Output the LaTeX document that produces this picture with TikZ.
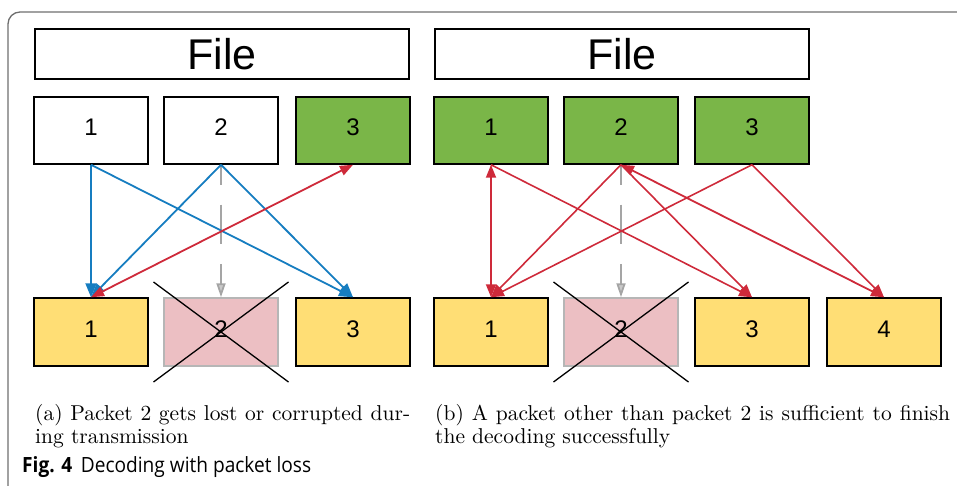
\documentclass[tikz,border=0pt]{standalone}
\usepackage{fontspec}
\usepackage{graphicx}
\usetikzlibrary{arrows.meta}
\newfontfamily\boxfont{Liberation Sans}
\newfontfamily\capsans{Open Sans}

\definecolor{pktgreen}{RGB}{122,182,72}
\definecolor{pktyellow}{RGB}{255,222,117}
\definecolor{pktpink}{RGB}{236,191,195}
\definecolor{pktpinkline}{RGB}{182,182,182}
\definecolor{arrblue}{RGB}{22,125,192}
\definecolor{arrred}{RGB}{206,42,58}
\definecolor{arrgray}{RGB}{165,165,165}
\definecolor{framegray}{RGB}{110,110,110}

\begin{document}
\begin{tikzpicture}[x=1pt,y=-1pt,
  pkt/.style={draw=black, line width=1.5pt, minimum width=114pt, minimum height=67pt,
    inner sep=0pt, text depth=6pt, font=\boxfont\fontsize{24}{24}\selectfont},
  filebox/.style={draw=black, line width=1.5pt, minimum width=374pt, minimum height=50pt,
    inner sep=0pt, font=\boxfont\fontsize{43}{43}\selectfont},
  srcpkt/.style={pkt},
  donepkt/.style={pkt, fill=pktgreen},
  rxpkt/.style={pkt, fill=pktyellow, minimum height=68pt},
  lostpkt/.style={pkt, fill=pktpink, draw=pktpinkline, minimum height=68pt},
  bluearr/.style={draw=arrblue, line width=1.8pt, -{Triangle[length=14pt, width=11pt]}},
  redarr/.style={draw=arrred, line width=1.6pt, -{Triangle[length=13pt, width=10pt]}},
  redboth/.style={draw=arrred, line width=1.8pt, {Triangle[length=13pt, width=10pt]}-{Triangle[length=13pt, width=10pt]}},
  lostarr/.style={draw=arrgray, line width=1.8pt,
    dash pattern=on 20pt off 20pt on 39pt off 20pt on 40pt off 0pt,
    -{Triangle[length=14pt, width=9pt, fill=arrgray!60]}},
  crossline/.style={draw=black, line width=1.3pt},
  subcap/.style={anchor=base west, inner sep=0pt},
]
\useasboundingbox (0,0) rectangle (957,486);

% outer frame
\draw[framegray, line width=1.3pt, rounded corners=12pt] (8,486) |- (957,12);

% ---------- (a) ----------
\node[filebox] (fileA) at (222,54) {File};
\node[srcpkt]  (ta1) at (91,130.5) {1};
\node[srcpkt]  (ta2) at (221,130.5) {2};
\node[donepkt] (ta3) at (353,130.5) {3};
\node[rxpkt]   (ba1) at (91,332) {1};
\node[lostpkt] (ba2) at (221,332) {2};
\node[rxpkt]   (ba3) at (353,332) {3};

\draw[lostarr] (ta2.south) -- (ba2.north);
\draw[bluearr] (ta1.south) -- (ba1.north);
\draw[bluearr] (ta1.south) -- (ba3.north);
\draw[bluearr] (ta2.south) -- (ba1.north);
\draw[bluearr] (ta2.south) -- (ba3.north);
\draw[redboth] (ba1.north) -- (ta3.south);

\draw[crossline] (ba2.center) ++(-67.5,-50) -- ++(135,100);
\draw[crossline] (ba2.center) ++(-67.5,50) -- ++(135,-100);

% ---------- (b) ----------
\node[filebox] (fileB) at (622,54) {File};
\node[donepkt] (tb1) at (491,130.5) {1};
\node[donepkt] (tb2) at (621,130.5) {2};
\node[donepkt] (tb3) at (752,130.5) {3};
\node[rxpkt]   (bb1) at (491,332) {1};
\node[lostpkt] (bb2) at (621,332) {2};
\node[rxpkt]   (bb3) at (752,332) {3};
\node[rxpkt]   (bb4) at (884,332) {4};

\draw[lostarr] (tb2.south) -- (bb2.north);
\draw[redboth] (tb1.south) -- (bb1.north);
\draw[redarr]  (tb1.south) -- (bb3.north);
\draw[redarr]  (tb2.south) -- (bb1.north);
\draw[redarr]  (tb2.south) -- (bb3.north);
\draw[redboth] (bb4.north) -- (tb2.south);
\draw[redarr]  (tb3.south) -- (bb1.north);
\draw[redarr]  (tb3.south) -- (bb4.north);

\draw[crossline] (bb2.center) ++(-67.5,-50) -- ++(135,100);
\draw[crossline] (bb2.center) ++(-67.5,50) -- ++(135,-100);

% ---------- captions ----------
\node[subcap] (capA1) at (35,420)
  {\scalebox{2.15}{\makebox[174.4pt][s]{(a)\ Packet 2 gets lost or corrupted dur-}}};
\node[subcap] (capA2) at (35,443)
  {\scalebox{2.15}{ing transmission}};
\node[subcap] (capB1) at (435,420)
  {\scalebox{2.15}{\makebox[239.5pt][s]{(b)\ A packet other than packet 2 is sufficient to finish}}};
\node[subcap] (capB2) at (435,443)
  {\scalebox{2.15}{the decoding successfully}};
\node[subcap] (fig) at (22,472)
  {\scalebox{0.91}[1]{\capsans\fontsize{21}{21}\selectfont\textbf{Fig. 4}\hspace{0.45em}Decoding with packet loss}};
\end{tikzpicture}
\end{document}
